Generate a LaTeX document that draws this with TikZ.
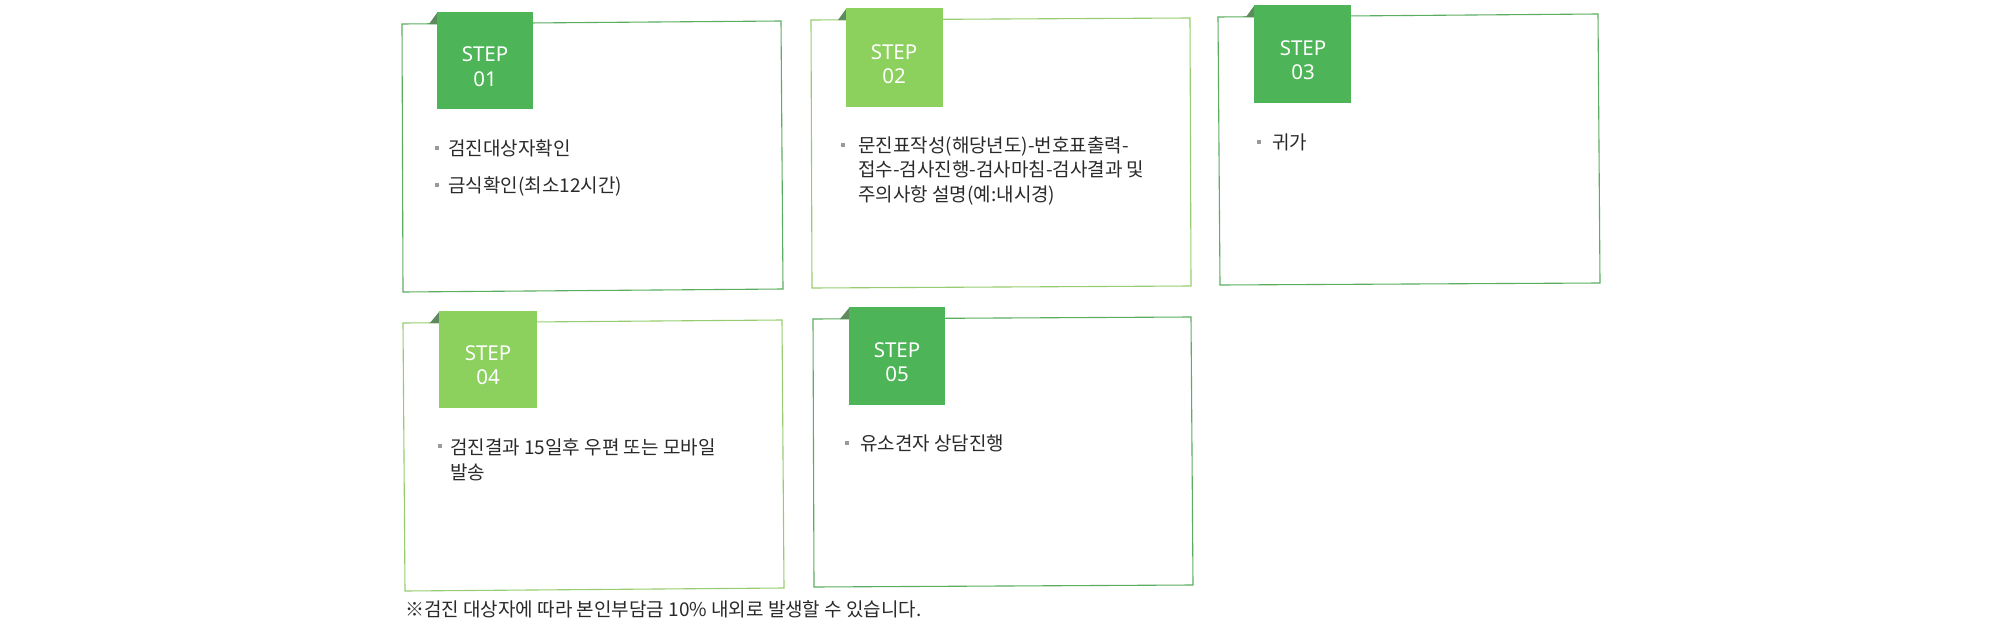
\documentclass[tikz,border=0pt]{standalone}
\usepackage{fontspec}
\setmainfont{Noto Sans}
\newfontfamily\krfont{Noto Sans CJK KR}
\newfontfamily\stepfont{Noto Sans}
\definecolor{tabdark}{HTML}{4DB557}
\definecolor{tablight}{HTML}{8CD15E}
\definecolor{borderdark}{HTML}{5BAE60}
\definecolor{borderlight}{HTML}{97CD70}
\definecolor{foldc}{HTML}{5E8A5E}
\definecolor{bodytext}{HTML}{2A2A2A}
\definecolor{bulletc}{HTML}{9A9A9A}
\begin{document}
\begin{tikzpicture}[x=1pt,y=-1pt,
  boxdark/.style={draw=borderdark, line width=1.1pt},
  boxlight/.style={draw=borderlight, line width=1.1pt},
  foldst/.style={fill=foldc},
  tabst/.style={draw=none, inner sep=0, anchor=north west},
  steplbl/.style={font=\stepfont\fontsize{20.5}{24}\selectfont, text=white, anchor=base, inner sep=0},
  itemtxt/.style={font=\krfont\fontsize{19}{24}\selectfont, text=bodytext, anchor=base west, inner sep=0},
  bulletst/.style={fill=bulletc, draw=none, minimum size=4pt, inner sep=0}]
\useasboundingbox (0,0) rectangle (2006,629);
\fill[white] (0,0) rectangle (2006,629);

% ---------- STEP 01 ----------
\draw[boxdark] (402,24) -- (781,21) -- (783,289) -- (403,292) -- cycle;
\fill[foldst] (429,24) -- (437,13) -- (437,24) -- cycle;
\node[tabst, fill=tabdark, minimum width=96pt, minimum height=97pt] (tab1) at (437,12) {};
\node[steplbl] (s1a) at (485,61) {STEP};
\node[steplbl] (s1b) at (485,86) {01};
\node[bulletst] (b1a) at (437,148) {};
\node[itemtxt] (i1a) at (448,155) {검진대상자확인};
\node[bulletst] (b1b) at (437,185) {};
\node[itemtxt] (i1b) at (448,192) {금식확인(최소12시간)};

% ---------- STEP 02 ----------
\draw[boxlight] (811,20) -- (1190,18) -- (1191,286) -- (812,288) -- cycle;
\fill[foldst] (838,20) -- (846,9) -- (846,20) -- cycle;
\node[tabst, fill=tablight, minimum width=97pt, minimum height=99pt] (tab2) at (846,8) {};
\node[steplbl] (s2a) at (894,59) {STEP};
\node[steplbl] (s2b) at (894,83) {02};
\node[bulletst] (b2a) at (843,145) {};
\node[itemtxt] (i2a) at (858,152) {문진표작성(해당년도)-번호표출력-};
\node[itemtxt] (i2b) at (858,176.5) {접수-검사진행-검사마침-검사결과 및};
\node[itemtxt] (i2c) at (858,201) {주의사항 설명(예:내시경)};

% ---------- STEP 03 ----------
\draw[boxdark] (1218,17) -- (1598,14) -- (1600,283) -- (1220,285) -- cycle;
\fill[foldst] (1246,17) -- (1254,6) -- (1254,17) -- cycle;
\node[tabst, fill=tabdark, minimum width=97pt, minimum height=98pt] (tab3) at (1254,5) {};
\node[steplbl] (s3a) at (1303,55) {STEP};
\node[steplbl] (s3b) at (1303,79) {03};
\node[bulletst] (b3a) at (1259,142) {};
\node[itemtxt] (i3a) at (1272,149) {귀가};

% ---------- STEP 04 ----------
\draw[boxlight] (403,323) -- (782,320) -- (784,588) -- (405,591) -- cycle;
\fill[foldst] (430,323) -- (439,312) -- (439,323) -- cycle;
\node[tabst, fill=tablight, minimum width=98pt, minimum height=97pt] (tab4) at (439,311) {};
\node[steplbl] (s4a) at (488,360) {STEP};
\node[steplbl] (s4b) at (488,384) {04};
\node[bulletst] (b4a) at (440,446) {};
\node[itemtxt] (i4a) at (450,454) {검진결과 15일후 우편 또는 모바일};
\node[itemtxt] (i4b) at (450,479) {발송};

% ---------- STEP 05 ----------
\draw[boxdark] (813,319) -- (1191,317) -- (1193,585) -- (814,587) -- cycle;
\fill[foldst] (840,319) -- (849,308) -- (849,319) -- cycle;
\node[tabst, fill=tabdark, minimum width=96pt, minimum height=98pt] (tab5) at (849,307) {};
\node[steplbl] (s5a) at (897,357) {STEP};
\node[steplbl] (s5b) at (897,381) {05};
\node[bulletst] (b5a) at (847,443) {};
\node[itemtxt] (i5a) at (860,450) {유소견자 상담진행};

% ---------- note ----------
\node[itemtxt] (note) at (405,616) {※검진 대상자에 따라 본인부담금 10\% 내외로 발생할 수 있습니다.};
\end{tikzpicture}
\end{document}
